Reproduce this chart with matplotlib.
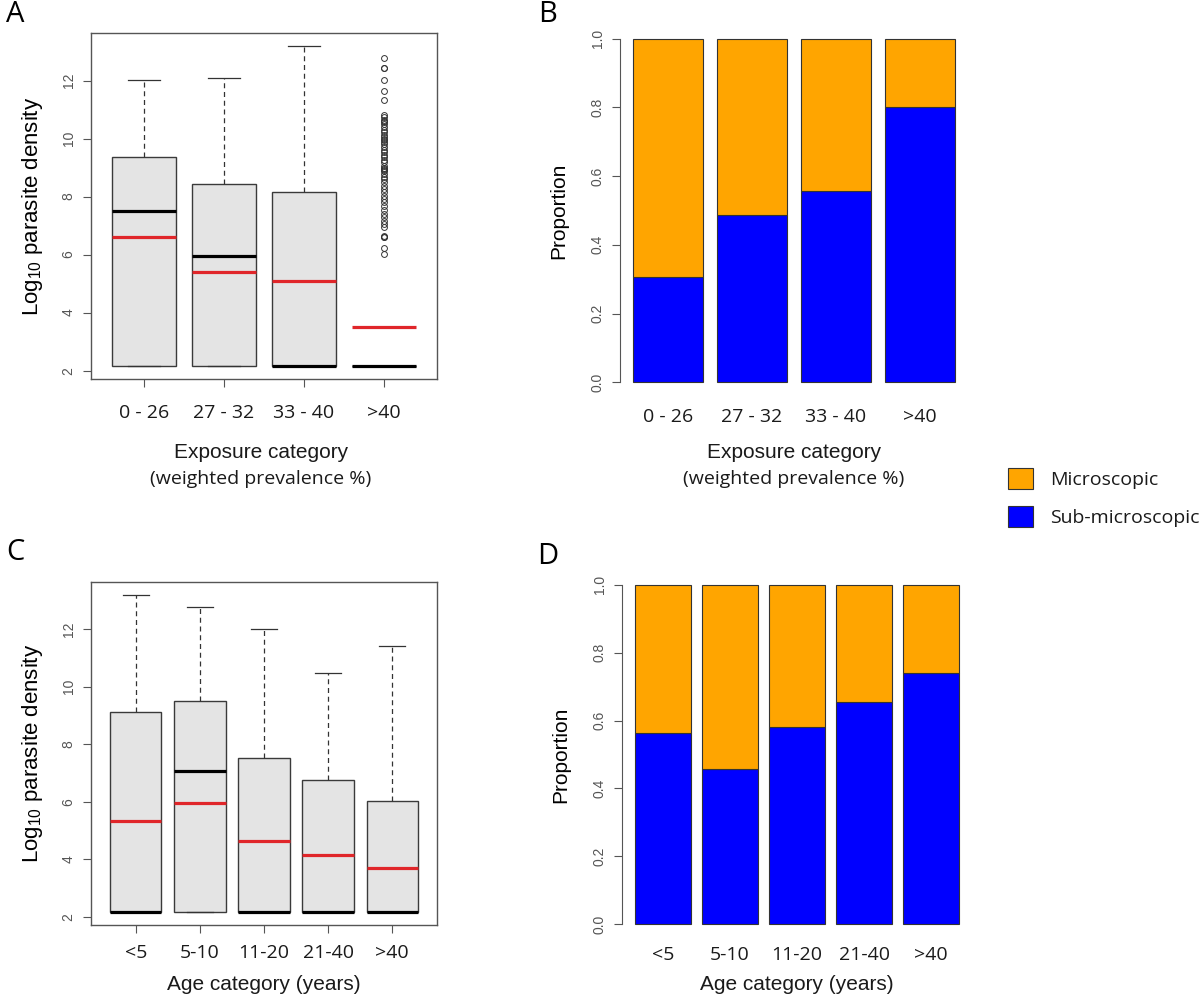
import numpy as np
import matplotlib
matplotlib.use("Agg")
import matplotlib.pyplot as plt
from matplotlib.patches import Patch

# Panel A: parasite density by exposure category (box summaries)
exp_labels = ["0 - 26", "27 - 32", "33 - 40", ">40"]
exp_q1 = [2.15, 2.15, 2.15, 2.15]
exp_med = [7.49, 5.94, 2.15, 2.15]
exp_q3 = [9.38, 8.43, 8.17, 2.15]
exp_whishi = [12.01, 12.10, 13.20, 2.15]
exp_mean = [6.61, 5.41, 5.10, 3.52]
exp_fliers_gt40 = [12.78, 12.44, 12.44, 12.01, 11.64, 11.34, 10.82, 10.74, 10.65, 10.60,
                   10.57, 10.49, 10.40, 10.30, 10.22, 10.14, 10.05, 10.00, 9.96, 9.88,
                   9.80, 9.70, 9.61, 9.53, 9.45, 9.36, 9.27, 9.19, 9.07, 9.00, 8.96,
                   8.90, 8.87, 8.78, 8.69, 8.61, 8.49, 8.38, 8.26, 8.15, 8.03, 7.92,
                   7.80, 7.69, 7.54, 7.40, 7.28, 7.17, 7.05, 6.94, 6.65, 6.62, 6.59,
                   6.24, 6.01]

# Panel B: proportion sub-microscopic by exposure category
exp_submicro = [0.306, 0.487, 0.558, 0.800]

# Panel C: parasite density by age category
age_labels = ["<5", "5-10", "11-20", "21-40", ">40"]
age_q1 = [2.15, 2.15, 2.15, 2.15, 2.15]
age_med = [2.15, 7.05, 2.15, 2.15, 2.15]
age_q3 = [9.11, 9.49, 7.51, 6.77, 6.03]
age_whishi = [13.19, 12.76, 12.02, 10.48, 11.43]
age_mean = [5.34, 5.94, 4.64, 4.13, 3.68]

# Panel D: proportion sub-microscopic by age category
age_submicro = [0.564, 0.456, 0.581, 0.655, 0.741]

ORANGE = "#FFA500"
BLUE = "#0000FF"
RED = "#E0262A"
AXCOL = "#555555"
R_FONT = "Liberation Sans"
C_FONT = "Open Sans"

plt.rcParams["mathtext.fontset"] = "custom"
plt.rcParams["mathtext.rm"] = R_FONT
plt.rcParams["mathtext.it"] = R_FONT + ":italic"

fig = plt.figure(figsize=(12, 10.06), dpi=100)
W, H = 1200, 1006


def px_axes(left, top, right, bottom):
    return fig.add_axes([left / W, 1 - bottom / H, (right - left) / W, (bottom - top) / H])


def boxpanel(ax, labels, q1, med, q3, whishi, means, fliers, xpad):
    stats = []
    for i in range(len(labels)):
        stats.append(dict(q1=q1[i], med=med[i], q3=q3[i], whislo=q1[i], whishi=whishi[i],
                          mean=means[i], fliers=fliers[i]))
    n = len(labels)
    pos = np.arange(1, n + 1)
    ax.bxp(stats, positions=pos, widths=0.8, patch_artist=True, showmeans=True, meanline=True,
           boxprops=dict(facecolor="#E4E4E4", edgecolor="#3a3a3a", linewidth=1.0),
           medianprops=dict(color="black", linewidth=2.3, solid_capstyle="butt"),
           meanprops=dict(color=RED, linestyle="-", linewidth=2.3),
           whiskerprops=dict(color="#333333", linestyle=(0, (4, 3)), linewidth=0.9),
           capprops=dict(color="#333333", linewidth=0.9),
           flierprops=dict(marker="o", markerfacecolor="none", markeredgecolor="#333333",
                           markersize=4.2, markeredgewidth=0.7))
    ax.set_xlim(0.5 - 0.04 * n, n + 0.5 + 0.04 * n)
    ax.set_ylim(1.71, 13.64)
    ax.set_yticks([2, 4, 6, 8, 10, 12])
    ax.set_xticks(pos, labels)
    for sp in ax.spines.values():
        sp.set_color(AXCOL)
        sp.set_linewidth(1.0)
    ax.tick_params(axis="y", direction="out", length=6, color=AXCOL, labelcolor=AXCOL,
                   labelsize=10, labelrotation=90, pad=5)
    ax.tick_params(axis="x", direction="out", length=6, color=AXCOL, pad=xpad)
    for t in ax.get_yticklabels():
        t.set_fontfamily(R_FONT)
        t.set_va("center")
    for t in ax.get_xticklabels():
        t.set_fontfamily(C_FONT)
        t.set_fontsize(14)
        t.set_color("#1a1a1a")
    ax.set_ylabel("Log$_{10}$ parasite density", fontfamily=R_FONT, fontsize=16, labelpad=12)


def barpanel(ax, labels, sub, xpad):
    n = len(labels)
    x = 0.7 + 1.2 * np.arange(n)
    sub = np.array(sub)
    ax.bar(x, sub, width=1.0, color=BLUE, edgecolor="#333333", linewidth=0.8)
    ax.bar(x, 1 - sub, bottom=sub, width=1.0, color=ORANGE, edgecolor="#333333", linewidth=0.8)
    span = 1.2 * n - 0.2
    ax.set_xlim(0.2 - 0.04 * span, 0.2 + span + 0.04 * span)
    ax.set_ylim(-0.04, 1.04)
    for s in ["top", "right", "bottom"]:
        ax.spines[s].set_visible(False)
    ax.spines["left"].set_bounds(0, 1)
    ax.spines["left"].set_color(AXCOL)
    ax.set_yticks([0.0, 0.2, 0.4, 0.6, 0.8, 1.0], ["0.0", "0.2", "0.4", "0.6", "0.8", "1.0"])
    ax.set_xticks(x, labels)
    ax.tick_params(axis="y", direction="out", length=6, color=AXCOL, labelcolor=AXCOL,
                   labelsize=10, labelrotation=90, pad=5)
    ax.tick_params(axis="x", length=0, pad=xpad)
    for t in ax.get_yticklabels():
        t.set_fontfamily(R_FONT)
        t.set_va("center")
    for t in ax.get_xticklabels():
        t.set_fontfamily(C_FONT)
        t.set_fontsize(14)
        t.set_color("#1a1a1a")
    ax.set_ylabel("Proportion", fontfamily=R_FONT, fontsize=15, labelpad=16)


axA = px_axes(91, 33, 437, 379)
boxpanel(axA, exp_labels, exp_q1, exp_med, exp_q3, exp_whishi, exp_mean,
         [[], [], [], exp_fliers_gt40], 12)

axB = px_axes(620, 25, 968, 396)
barpanel(axB, exp_labels, exp_submicro, 9)

axC = px_axes(91, 582, 437, 925)
boxpanel(axC, age_labels, age_q1, age_med, age_q3, age_whishi, age_mean,
         [[], [], [], [], []], 8)

axD = px_axes(622, 571, 972, 938)
barpanel(axD, age_labels, age_submicro, 6)

# axis titles
for cx in [261, 794]:
    fig.text(cx / W, 1 - 452 / H, "Exposure category", ha="center", va="center",
             fontfamily=R_FONT, fontsize=15, color="#1a1a1a")
    fig.text(cx / W, 1 - 479 / H, "(weighted prevalence %)", ha="center", va="center",
             fontfamily=C_FONT, fontsize=14, color="#1a1a1a")
for cx in [264, 797]:
    fig.text(cx / W, 1 - 984 / H, "Age category (years)", ha="center", va="center",
             fontfamily=R_FONT, fontsize=15, color="#1a1a1a")

# panel letters
for lab, x, y in [("A", 15, 15), ("B", 548, 15), ("C", 15, 553), ("D", 548, 557)]:
    fig.text(x / W, 1 - y / H, lab, ha="center", va="center", fontfamily=C_FONT,
             fontsize=21, color="black")

handles = [Patch(facecolor=ORANGE, edgecolor="#333333", linewidth=0.8),
           Patch(facecolor=BLUE, edgecolor="#333333", linewidth=0.8)]
fig.legend(handles, ["Microscopic", "Sub-microscopic"], loc="upper left",
           bbox_to_anchor=(990 / W, 1 - 450 / H), frameon=False,
           prop=dict(family=C_FONT, size=14), handlelength=1.3, handleheight=1.3,
           handletextpad=0.9, labelspacing=0.9, labelcolor="#1a1a1a")

fig.savefig("out.png", dpi=100, facecolor="white")
